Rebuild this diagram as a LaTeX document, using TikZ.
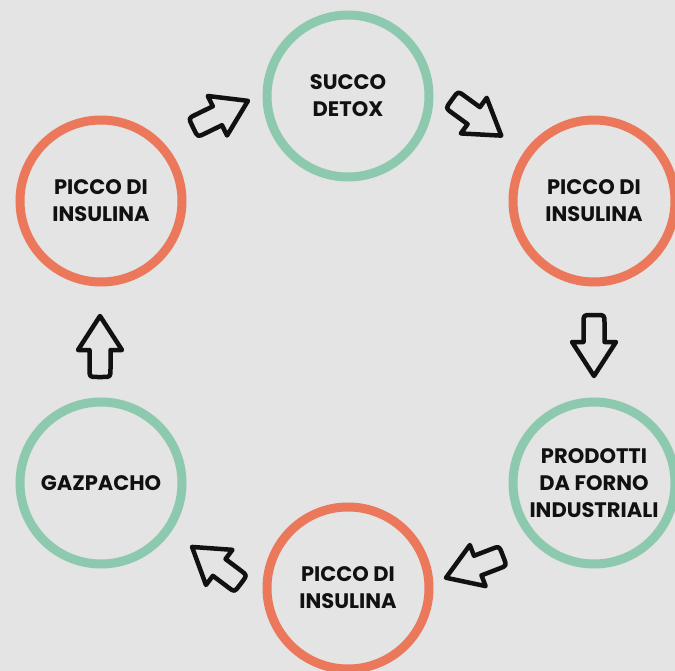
\documentclass[tikz,border=0pt]{standalone}
\usepackage{fontspec}
\setmainfont{Poppins}
\usepackage{tikz}
\definecolor{bgpaper}{HTML}{E3E4E3}
\definecolor{mint}{HTML}{8DC9AF}
\definecolor{coral}{HTML}{EC785C}
\definecolor{ink}{HTML}{111111}
\tikzset{
  ring/.style={circle,draw=#1,line width=9pt,minimum size=162pt,inner sep=0pt,
    align=center,text=ink,font=\fontsize{21}{27}\selectfont\bfseries},
  arrowline/.style={draw=ink,line width=4.5pt,line join=round},
}
% hollow block arrow: #1 centre, #2 direction in degrees
\newcommand{\fatarrow}[2]{%
  \draw [arrowline,shift={(#1)},rotate=#2] (30,0) -- (-4,-22) -- (-4,-10.5)
    -- (-23,-10.5) .. controls (-31,-10.5) .. (-31,-2.5) -- (-31,2.5)
    .. controls (-31,10.5) .. (-23,10.5) -- (-4,10.5) -- (-4,22) -- cycle;}

\begin{document}
\begin{tikzpicture}[x=1pt,y=-1pt]

      \fill [bgpaper] (0,0) rectangle (675,671);
      \useasboundingbox (0,0) rectangle (675,671);

      \node [ring=mint]  (detox)   at (348,96)  {SUCCO\\DETOX};
      \node [ring=coral] (piccoR)  at (594,201) {PICCO DI\\INSULINA};
      \node [ring=mint]  (forno)   at (594,483) {PRODOTTI\\DA FORNO\\INDUSTRIALI};
      \node [ring=coral] (piccoB)  at (348,588) {PICCO DI\\INSULINA};
      \node [ring=mint]  (gazpa)   at (101,483) {GAZPACHO};
      \node [ring=coral] (piccoL)  at (101,201) {PICCO DI\\INSULINA};

      \fatarrow{221,114}{26}
      \fatarrow{477,118}{-36}
      \fatarrow{594,346}{-90}
      \fatarrow{474,567}{201}
      \fatarrow{216,565}{143}
      \fatarrow{100,346}{90}

    \end{tikzpicture}
\end{document}
